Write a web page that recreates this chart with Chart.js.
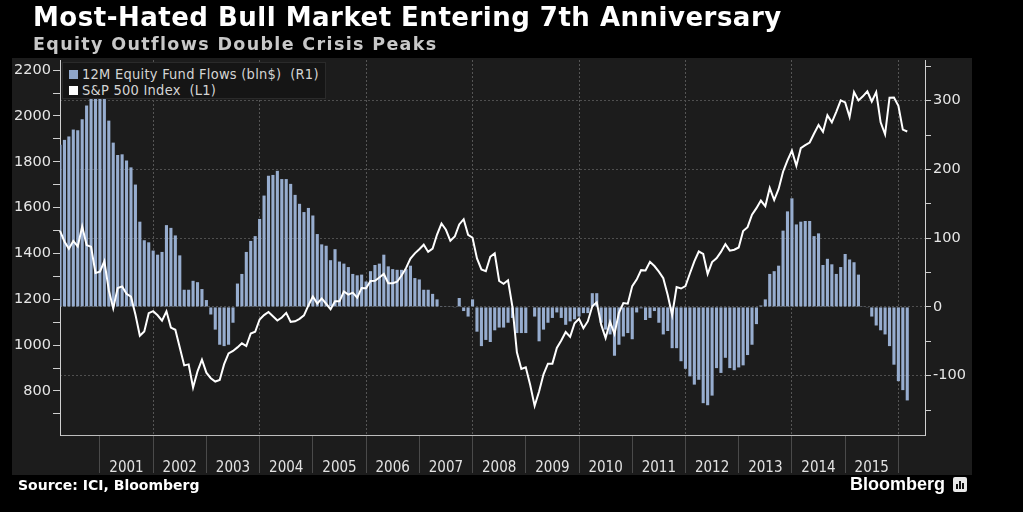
<!DOCTYPE html>
<html>
<head>
<meta charset="utf-8">
<script src="https://cdn.jsdelivr.net/npm/chart.js@4.4.1/dist/chart.umd.min.js"></script>
<style>
  html, body { margin:0; padding:0; background:#000; }
  body { width:1023px; height:512px; overflow:hidden; position:relative; font-family:"DejaVu Sans", sans-serif; }
  #panel { position:absolute; left:12px; top:58px; width:960px; height:417px; background:#1c1c1c; }
  #c { position:absolute; left:0; top:0; }
  .title { position:absolute; left:33px; top:2px; color:#fff; font:bold 26px "DejaVu Sans"; letter-spacing:0.5px; line-height:30px; white-space:nowrap; }
  .subtitle { position:absolute; left:33px; top:33px; color:#c8c8c8; font:bold 17.5px "DejaVu Sans"; letter-spacing:1.35px; line-height:22px; white-space:nowrap; }
  .legend { position:absolute; left:62px; top:62px; width:264px; height:37px; background:#151515; border:1px solid #2a2a2a; box-sizing:border-box; }
  .li { position:absolute; left:6px; color:#d4d4d4; font:14.5px "DejaVu Sans Condensed", "DejaVu Sans"; letter-spacing:0.25px; line-height:16px; white-space:nowrap; }
  .sw { display:inline-block; width:9px; height:9px; margin-right:4px; vertical-align:0px; }
  .source { position:absolute; left:18px; top:477px; color:#fff; font:bold 14px "DejaVu Sans"; line-height:16px; white-space:nowrap; }
  .brand { position:absolute; left:850px; top:473px; color:#fff; font:bold 18px "Liberation Sans"; line-height:22px; white-space:nowrap; }
  .icon { position:absolute; left:953px; top:477px; width:14px; height:15px; background:#e8e8e8; border-radius:2px; }
  .icon span { position:absolute; bottom:3px; width:2px; background:#111; }
</style>
</head>
<body>
<div id="panel"></div>
<canvas id="c" width="1023" height="512"></canvas>
<div class="title">Most-Hated Bull Market Entering 7th Anniversary</div>
<div class="subtitle">Equity Outflows Double Crisis Peaks</div>
<div class="legend">
  <div class="li" style="top:3px"><span class="sw" style="background:#8fa6ca"></span>12M Equity Fund Flows (bln$)&nbsp; (R1)</div>
  <div class="li" style="top:19px"><span class="sw" style="background:#ffffff"></span>S&amp;P 500 Index&nbsp; (L1)</div>
</div>
<div class="source">Source: ICI, Bloomberg</div>
<div class="brand">Bloomberg</div>
<div class="icon"><span style="left:3px;height:5px"></span><span style="left:6px;height:8px"></span><span style="left:9px;height:6px"></span></div>
<script>
// Monthly slots from Mar 2000 onward (axis runs a few months past the data)
const START_YEAR = 2000, START_MONTH = 2, SLOTS = 196;
const months = [];
for (let i = 0; i < SLOTS; i++) {
  const t = START_MONTH + i;
  months.push((START_YEAR + Math.floor(t / 12)) + '-' + String(t % 12 + 1).padStart(2, '0'));
}
const yearLabels = ['2001','2002','2003','2004','2005','2006','2007','2008','2009','2010','2011','2012','2013','2014','2015'];

// S&P 500 Index, monthly (Mar 2000 .. Feb 2016), left axis
const spx = [
  1498.6,1452.4,1420.6,1454.6,1430.8,1517.7,1436.5,1429.4,1315.0,1320.3,
  1366.0,1239.9,1160.3,1249.5,1255.8,1224.4,1211.2,1133.6,1040.9,1059.8,1139.5,1148.1,
  1130.2,1106.7,1147.4,1076.9,1067.1,989.8,911.6,916.1,815.3,885.8,936.3,879.8,
  855.7,841.2,848.2,916.9,963.6,974.5,990.3,1008.0,996.0,1050.7,1058.2,1111.9,
  1131.1,1144.9,1126.2,1107.3,1120.7,1140.8,1101.7,1104.2,1114.6,1130.2,1173.8,1211.9,
  1181.3,1203.6,1180.6,1156.9,1191.5,1191.3,1234.2,1220.3,1228.8,1207.0,1249.5,1248.3,
  1280.1,1280.7,1294.8,1310.6,1270.1,1270.2,1276.7,1303.8,1335.9,1377.9,1400.6,1418.3,
  1438.2,1406.8,1420.9,1482.4,1530.6,1503.4,1455.3,1474.0,1526.8,1549.4,1481.1,1468.4,
  1378.6,1330.6,1322.7,1385.6,1400.4,1280.0,1267.4,1282.8,1166.4,968.8,896.2,903.3,
  825.9,735.1,797.9,872.8,919.1,919.3,987.5,1020.6,1057.1,1036.2,1095.6,1115.1,
  1073.9,1104.5,1169.4,1186.7,1089.4,1030.7,1101.6,1049.3,1141.2,1183.3,1180.6,1257.6,
  1286.1,1327.2,1325.8,1363.6,1345.2,1320.6,1292.3,1218.9,1131.4,1253.3,1247.0,1257.6,
  1312.4,1365.7,1408.5,1397.9,1310.3,1362.2,1379.3,1406.6,1440.7,1412.2,1416.2,1426.2,
  1498.1,1514.7,1569.2,1597.6,1630.7,1606.3,1685.7,1633.0,1681.6,1756.5,1805.8,1848.4,
  1782.6,1859.5,1872.3,1884.0,1923.6,1960.2,1930.7,2003.4,1972.3,2018.1,2067.6,2058.9,
  1995.0,2104.5,2067.9,2085.5,2107.4,2063.1,2103.8,1972.2,1920.0,2079.4,2080.4,2043.9,
  1940.2,1932.2
];

// 12M Equity Fund Flows (bln$), monthly (Mar 2000 .. Feb 2016), right axis
const flows = [
  236,243,248,258,257,273,293,312,320,318,
  307,271,239,221,222,213,203,178,124,97,94,82,
  76,80,119,115,104,75,25,25,38,36,26,10,
  -11,-33,-55,-57,-55,-23,34,48,80,96,103,128,
  162,191,192,198,186,186,179,163,150,138,144,133,
  106,91,89,68,84,66,63,58,48,46,47,37,
  52,61,63,76,59,55,54,54,55,60,42,40,
  25,25,19,11,1,0.5,0.5,-1,13,-6,-14,11,
  -36,-57,-48,-51,-34,-30,-30,-23,-16,-38,-38,-38,
  0,-14,-50,-33,-23,-16,-8,-16,-26,-21,-18,-14,
  -9,-9,20,20,-23,-33,-40,-71,-55,-43,-38,-47,
  -8,-2,-19,-16,-6,-23,-40,-35,-60,-60,-79,-90,
  -101,-113,-106,-140,-143,-129,-89,-96,-74,-89,-92,-88,
  -85,-70,-55,-25,2,11,48,52,60,111,139,158,
  120,124,125,125,103,107,61,70,62,48,58,77,
  69,65,47,1,-1,-14,-27,-34,-40,-57,-84,-108,
  -121,-136
];

const FIRST_BOUNDARY = 9;   // slot index where year 2001 begins
const LABEL_OFFSET = 15;    // slot index of 2001 label (mid-year)

function boundaryK(i) {
  const k = (i - FIRST_BOUNDARY) / 12;
  return (Number.isInteger(k) && k >= 0 && k <= yearLabels.length) ? k : -1;
}

new Chart(document.getElementById('c'), {
  type: 'bar',
  data: {
    labels: months,
    datasets: [
      {
        type: 'line', label: 'S&P 500 Index  (L1)', data: spx, yAxisID: 'y',
        borderColor: '#ffffff', borderWidth: 2, pointRadius: 0, tension: 0, order: 0
      },
      {
        type: 'bar', label: '12M Equity Fund Flows (bln$)  (R1)', data: flows, yAxisID: 'y1',
        backgroundColor: '#97adcf', borderWidth: 0, barPercentage: 0.7, categoryPercentage: 1, order: 1
      }
    ]
  },
  options: {
    responsive: false,
    animation: false,
    devicePixelRatio: 1,
    layout: { padding: { top: 60, left: 0, right: 0, bottom: 37 } },
    plugins: { legend: { display: false }, tooltip: { enabled: false } },
    scales: {
      x: {
        type: 'category', offset: false,
        afterFit: s => { s.height = 40; },
        grid: {
          offset: false, drawOnChartArea: true, drawTicks: true, tickLength: 38,
          color: ctx => { const k = boundaryK(ctx.index); return (k > 0 && k % 2 === 1) ? '#555555' : 'rgba(0,0,0,0)'; },
          tickColor: ctx => boundaryK(ctx.index) >= 0 ? '#4a4a4a' : 'rgba(0,0,0,0)',
          lineWidth: 1
        },
        border: { display: true, color: '#bdbdbd', width: 1, dash: [2, 2] },
        ticks: {
          autoSkip: false, maxRotation: 0, minRotation: 0, padding: -14,
          color: '#e2e2e2', font: { family: 'DejaVu Sans Condensed', size: 15 },
          callback: function (v, i) {
            const k = (i - LABEL_OFFSET) / 12;
            return (Number.isInteger(k) && k >= 0 && k < yearLabels.length) ? yearLabels[k] : '';
          }
        }
      },
      y: {
        position: 'left', min: 608, max: 2244,
        afterFit: s => { s.width = 60; },
        grid: { drawOnChartArea: false, tickLength: 7, tickColor: '#cfcfcf' },
        border: { display: true, color: '#cfcfcf', width: 1 },
        ticks: {
          stepSize: 100, includeBounds: false, autoSkip: false, padding: 2,
          color: '#e6e6e6', font: { family: 'DejaVu Sans', size: 14.5 },
          callback: v => (v % 200 === 0 ? String(v) : '')
        }
      },
      y1: {
        position: 'right', min: -186.3, max: 359.2,
        afterFit: s => { s.width = 98; },
        grid: {
          drawOnChartArea: true, tickLength: 6, tickColor: '#cfcfcf',
          color: ctx => (ctx.tick && ctx.tick.value % 100 === 0) ? '#4f4f4f' : 'rgba(0,0,0,0)'
        },
        border: { display: true, color: '#cfcfcf', width: 1, dash: [2, 2] },
        ticks: {
          stepSize: 50, includeBounds: false, autoSkip: false, padding: 2,
          color: '#e6e6e6', font: { family: 'DejaVu Sans', size: 14.5 },
          callback: v => (v % 100 === 0 ? String(v) : '')
        }
      }
    }
  }
});
</script>
</body>
</html>
